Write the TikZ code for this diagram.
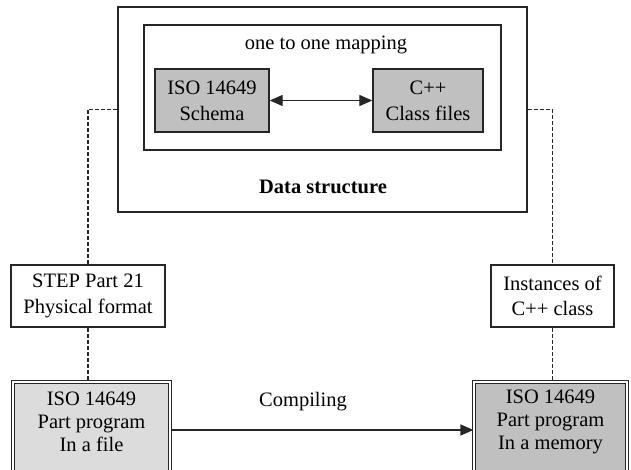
\documentclass[tikz,border=0pt]{standalone}
\usepackage{fontspec}
\setmainfont{Liberation Serif}
\usetikzlibrary{arrows.meta}
\definecolor{ink}{HTML}{262626}
\definecolor{midgrey}{HTML}{C0C0C0}
\definecolor{lightgrey}{HTML}{DCDCDC}
\tikzset{
  box/.style={draw=ink, line width=1.4pt, rectangle, inner sep=0pt},
  greybox/.style={box, fill=midgrey, font=\fontsize{20.5}{26}\selectfont, align=center},
  plainbox/.style={box, fill=white, font=\fontsize{20.5}{25.5}\selectfont, align=center},
  dbox/.style={draw=ink, line width=1.2pt, double=white, double distance=1.3pt, rectangle, inner sep=0pt},
  txt/.style={font=\fontsize{20.5}{23}\selectfont, align=center, inner sep=0pt},
  link/.style={draw=ink, line width=1.3pt, dash pattern=on 4pt off 2pt},
  flow/.style={draw=ink, line width=1.3pt, -{Triangle[length=13pt,width=11pt]}},
  twoway/.style={draw=ink, line width=1.3pt, {Triangle[length=13pt,width=11pt]}-{Triangle[length=13pt,width=11pt]}}
}
\begin{document}
\begin{tikzpicture}[x=1pt,y=-1pt]
\useasboundingbox (0,0) rectangle (631,469);
\clip (0,0) rectangle (631,469);
\fill[white] (0,0) rectangle (631,469);

% data structure frame and its mapping box
\node[box, minimum width=409, minimum height=205] (outer) at (322.5,109.5) {};
\node[box, minimum width=357, minimum height=125] (inner) at (322.5,87.5) {};
\node[txt] (maptitle) at (326,45) {one to one mapping};
\node[txt, font=\fontsize{20.5}{23}\selectfont\bfseries] (dstitle) at (323,187) {Data structure};
\node[greybox, minimum width=114, minimum height=63] (schema) at (212,100.5) {ISO 14649\\Schema};
\node[greybox, minimum width=110, minimum height=63] (cpp) at (428,100.5) {C++\\Class files};
\draw[twoway] (schema.east) -- (cpp.west);

% intermediate representations
\node[plainbox, minimum width=154, minimum height=62] (step) at (88,296) {STEP Part 21\\Physical format};
\node[plainbox, minimum width=123, minimum height=62] (inst) at (552.5,296) {Instances of\\C++ class};

% part program boxes
\node[dbox, fill=lightgrey, minimum width=157, minimum height=96] (fileb) at (91.5,430) {};
\node[txt] (filetxt) at (91.5,422) {ISO 14649\\Part program\\In a file};
\node[dbox, fill=midgrey, minimum width=153, minimum height=96] (memb) at (550.5,430) {};
\node[txt] (memtxt) at (550.5,422) {ISO 14649\\Part program\\In a memory};

% connectors
\draw[link] (outer.west) -| (step.north);
\draw[link] (step.south) -- (step.south |- fileb.north);
\draw[link] (outer.east) -| (inst.north);
\draw[link] (inst.south) -- (inst.south |- memb.north);
\draw[flow] (fileb.east) -- (memb.west);
\node[txt] (compiling) at (303,402) {Compiling};
\end{tikzpicture}
\end{document}
